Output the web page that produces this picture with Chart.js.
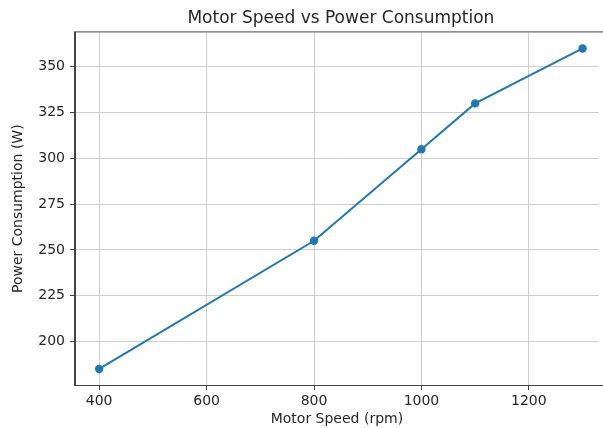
<!DOCTYPE html>
<html>
<head>
<meta charset="utf-8">
<script src="https://cdn.jsdelivr.net/npm/chart.js@4/dist/chart.umd.min.js"></script>
<style>
    html, body { margin: 0; padding: 0; overflow: hidden; background: #fff; }
</style>
</head>
<body>
<canvas id="myChart" width="603" height="428"></canvas>
<script>
const speeds = [400, 800, 1000, 1100, 1300];
const power = [185, 255, 305, 330, 360];
const xTicks = [400, 600, 800, 1000, 1200];
const yTicks = [200, 225, 250, 275, 300, 325, 350];

const font = 'DejaVu Sans';
const textColor = '#262626';
const spineColor = '#444';
const gridColor = '#cdcdcd';

// matplotlib style: box around the axes (right side falls off the picture)
const frame = {
    id: 'frame',
    afterLayout(chart) {
        // axes run past the right edge, keep title centred on the full axes width
        chart.titleBlock.left += 8;
    },
    afterDraw(chart) {
        const {ctx, chartArea: a} = chart;
        ctx.save();
        ctx.strokeStyle = spineColor;
        ctx.lineWidth = 1;
        ctx.strokeRect(a.left - 0.5, a.top - 0.5, a.right - a.left + 10, a.bottom - a.top + 1);
        ctx.restore();
    }
};

const ctx = document.getElementById('myChart').getContext('2d');
const chart = new Chart(ctx, {
    type: 'line',
    data: {
        datasets: [{
            data: speeds.map((x, i) => ({x: x, y: power[i]})),
            borderColor: '#1f77b4',
            backgroundColor: '#1f77b4',
            borderWidth: 2,
            pointRadius: 4.2,
            pointBorderWidth: 0,
            pointBackgroundColor: '#1f77b4',
            tension: 0,
        }],
    },
    options: {
        responsive: false,
        animation: false,
        layout: {padding: 0},
        plugins: {
            legend: {display: false},
            tooltip: {enabled: false},
            title: {
                display: true,
                fullSize: false,
                text: 'Motor Speed vs Power Consumption',
                color: textColor,
                font: {family: font, size: 17, weight: 'normal'},
                padding: {top: 8, bottom: 4},
            },
        },
        scales: {
            x: {
                type: 'linear',
                min: 355,
                max: 1330.2,
                afterBuildTicks: s => { s.ticks = xTicks.map(v => ({value: v})); },
                afterFit: s => { s.height = 43; },
                ticks: {color: textColor, font: {family: font, size: 14}, padding: 3, maxRotation: 0,
                        callback: v => String(v)},
                grid: {color: gridColor, lineWidth: 1, tickLength: 5, tickColor: spineColor},
                border: {color: spineColor, width: 1},
                title: {
                    display: true,
                    text: 'Motor Speed (rpm)',
                    color: textColor,
                    font: {family: font, size: 14},
                    padding: {top: 0, bottom: 0},
                },
            },
            y: {
                type: 'linear',
                min: 176.25,
                max: 368.75,
                afterBuildTicks: s => { s.ticks = yTicks.map(v => ({value: v})); },
                afterFit: s => { s.width = 75; },
                ticks: {color: textColor, font: {family: font, size: 14}, padding: 5,
                        callback: v => String(v)},
                grid: {color: gridColor, lineWidth: 1, tickLength: 5, tickColor: spineColor},
                border: {color: spineColor, width: 1},
                title: {
                    display: true,
                    text: 'Power Consumption (W)',
                    color: textColor,
                    font: {family: font, size: 14},
                    padding: {top: 10, bottom: 0},
                },
            },
        },
    },
    plugins: [frame],
});
</script>
</body>
</html>
